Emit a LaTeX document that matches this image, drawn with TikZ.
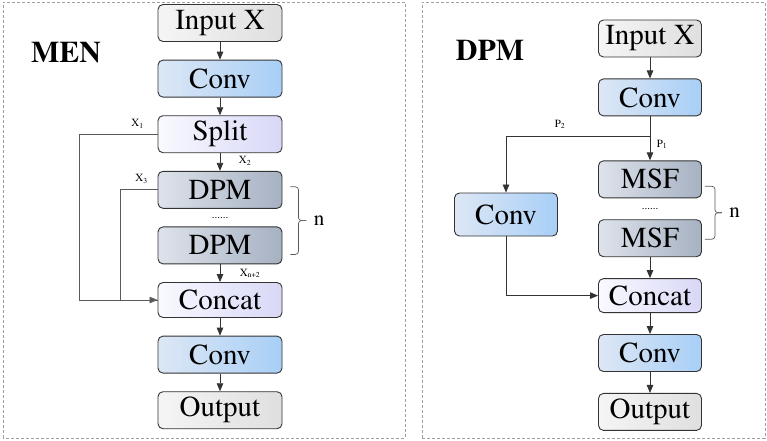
\documentclass[tikz,border=0pt]{standalone}
\usepackage[T1]{fontenc}
\usepackage{times}
\usetikzlibrary{arrows.meta, positioning, calc}
\definecolor{boxLine}{HTML}{333333}
\definecolor{grayL}{HTML}{F5F5F5}
\definecolor{grayR}{HTML}{DFDFDF}
\definecolor{convL}{HTML}{DDE7F5}
\definecolor{convR}{HTML}{A8CFF6}
\definecolor{splitL}{HTML}{F9F9FF}
\definecolor{splitR}{HTML}{D8D8F7}
\definecolor{dpmL}{HTML}{DEE3EB}
\definecolor{dpmR}{HTML}{A6B1C2}
\definecolor{panelLine}{HTML}{A0A0A0}
\definecolor{sideLine}{HTML}{595959}

\begin{document}
\begin{tikzpicture}[x=1pt, y=1pt, node distance=17.7pt]
    \tikzstyle{box} = [rectangle, draw=boxLine, line width=0.9pt, rounded corners=5pt, minimum width=124pt, minimum height=37pt, inner sep=0pt, text centered, font=\fontsize{29}{32}\selectfont]
    \tikzstyle{rbox} = [box, minimum width=103pt]
    \tikzstyle{io} = [left color=grayL, right color=grayR]
    \tikzstyle{conv} = [left color=convL, right color=convR]
    \tikzstyle{merge} = [left color=splitL, right color=splitR]
    \tikzstyle{block} = [left color=dpmL, right color=dpmR]
    \tikzstyle{arrow} = [-{Triangle[length=8pt,width=6.5pt]}, line width=0.8pt, boxLine]
    \tikzstyle{side} = [line width=0.8pt, sideLine]
    \tikzstyle{lbl} = [font=\fontsize{11}{13}\selectfont, inner sep=0pt]
    \tikzstyle{bracket} = [line width=0.7pt, sideLine, rounded corners=3pt]
    \tikzstyle{panel} = [draw=panelLine, dash pattern=on 3pt off 2pt, line width=0.6pt]
    \tikzstyle{title} = [font=\fontsize{30}{34}\selectfont\bfseries]

    \useasboundingbox (0,0) rectangle (767,440);
    \draw[panel] (3,2) rectangle (405,438);
    \draw[panel] (422,2) rectangle (765,438);

    % MEN
    \node[title] (menTitle) at (66,388) {MEN};
    \node[box, io] (inA) at (220,417) {Input X};
    \node[box, conv, below=of inA] (convA) {Conv};
    \node[box, merge, below=of convA] (split) {Split};
    \node[box, block, below=of split] (dpmA) {DPM};
    \node[box, block, below=of dpmA] (dpmB) {DPM};
    \node[box, merge, minimum height=35pt, below=of dpmB] (concatA) {Concat};
    \node[box, conv, below=of concatA] (convC) {Conv};
    \node[box, io, below=of convC] (outA) {Output};
    \node[lbl] (dotsA) at ($(dpmA)!0.5!(dpmB)$) {......};

    \draw[arrow] (inA) -- (convA);
    \draw[arrow] (convA) -- (split);
    \draw[arrow] (split) -- (dpmA);
    \draw[arrow] (dpmB) -- (concatA);
    \draw[arrow] (concatA) -- (convC);
    \draw[arrow] (convC) -- (outA);
    \draw[side] (dpmA.west) -- ++(-37,0) |- (concatA.west);
    \draw[side, -{Triangle[length=8pt,width=6.5pt]}] (split.west) -- ++(-78,0) |- (concatA.west);

    \node[lbl] (x1) at ($(split.west)+(-20,10)$) {X\textsubscript{1}};
    \node[lbl] (x2) at ($(split.south)+(25,-8)$) {X\textsubscript{2}};
    \node[lbl] (x3) at ($(dpmA.west)+(-16,11)$) {X\textsubscript{3}};
    \node[lbl] (xn) at ($(dpmB.south)+(30,-9)$) {X\textsubscript{n+2}};

    % repeat bracket
    \coordinate (bTopA) at ([shift={(8,3)}]dpmA.east);
    \coordinate (bBotA) at ([shift={(8,-9)}]dpmB.east);
    \coordinate (bMidA) at ($(bTopA)!0.5!(bBotA)+(16,0)$);
    \draw[bracket] (bTopA) -- ++(8,0) |- (bMidA);
    \draw[bracket] (bBotA) -- ++(8,0) |- (bMidA);
    \node[font=\fontsize{21}{24}\selectfont, right=4pt of bMidA] (nA) {n};

    % DPM
    \begin{scope}[node distance=21pt]
    \node[title] (dpmTitle) at (490,390) {DPM};
    \node[rbox, io] (inB) at (650,401.5) {Input X};
    \node[rbox, conv, below=of inB] (convB) {Conv};
    \node[rbox, block, below=44pt of convB] (msfA) {MSF};
    \node[rbox, block, below=of msfA] (msfB) {MSF};
    \node[rbox, merge, minimum height=34pt, below=of msfB] (concatB) {Concat};
    \node[rbox, conv, below=of concatB] (convD) {Conv};
    \node[rbox, io, below=of convD] (outB) {Output};
    \node[rbox, conv, minimum height=43pt] (convS) at (506,225.5) {Conv};
    \node[lbl] (dotsB) at ($(msfA)!0.5!(msfB)$) {......};
    \end{scope}

    \coordinate (pSplit) at ([yshift=-20pt]convB.south);
    \draw[arrow] (inB) -- (convB);
    \draw[arrow] (convB) -- (msfA);
    \draw[arrow] (pSplit) -| (convS);
    \draw[arrow] (msfB) -- (concatB);
    \draw[arrow] (convS) |- (concatB);
    \draw[arrow] (concatB) -- (convD);
    \draw[arrow] (convD) -- (outB);

    \node[lbl] (p2) at ($(pSplit)+(-90,12)$) {P\textsubscript{2}};
    \node[lbl] (p1) at ($(pSplit)+(12,-8)$) {P\textsubscript{1}};

    \coordinate (bTopB) at ([shift={(3,-7)}]msfA.east);
    \coordinate (bBotB) at ([shift={(3,-1)}]msfB.east);
    \coordinate (bMidB) at ($(bTopB)!0.5!(bBotB)+(17,0)$);
    \draw[bracket] (bTopB) -- ++(10,0) |- (bMidB);
    \draw[bracket] (bBotB) -- ++(10,0) |- (bMidB);
    \node[font=\fontsize{21}{24}\selectfont, right=4pt of bMidB] (nB) {n};
\end{tikzpicture}
\end{document}
